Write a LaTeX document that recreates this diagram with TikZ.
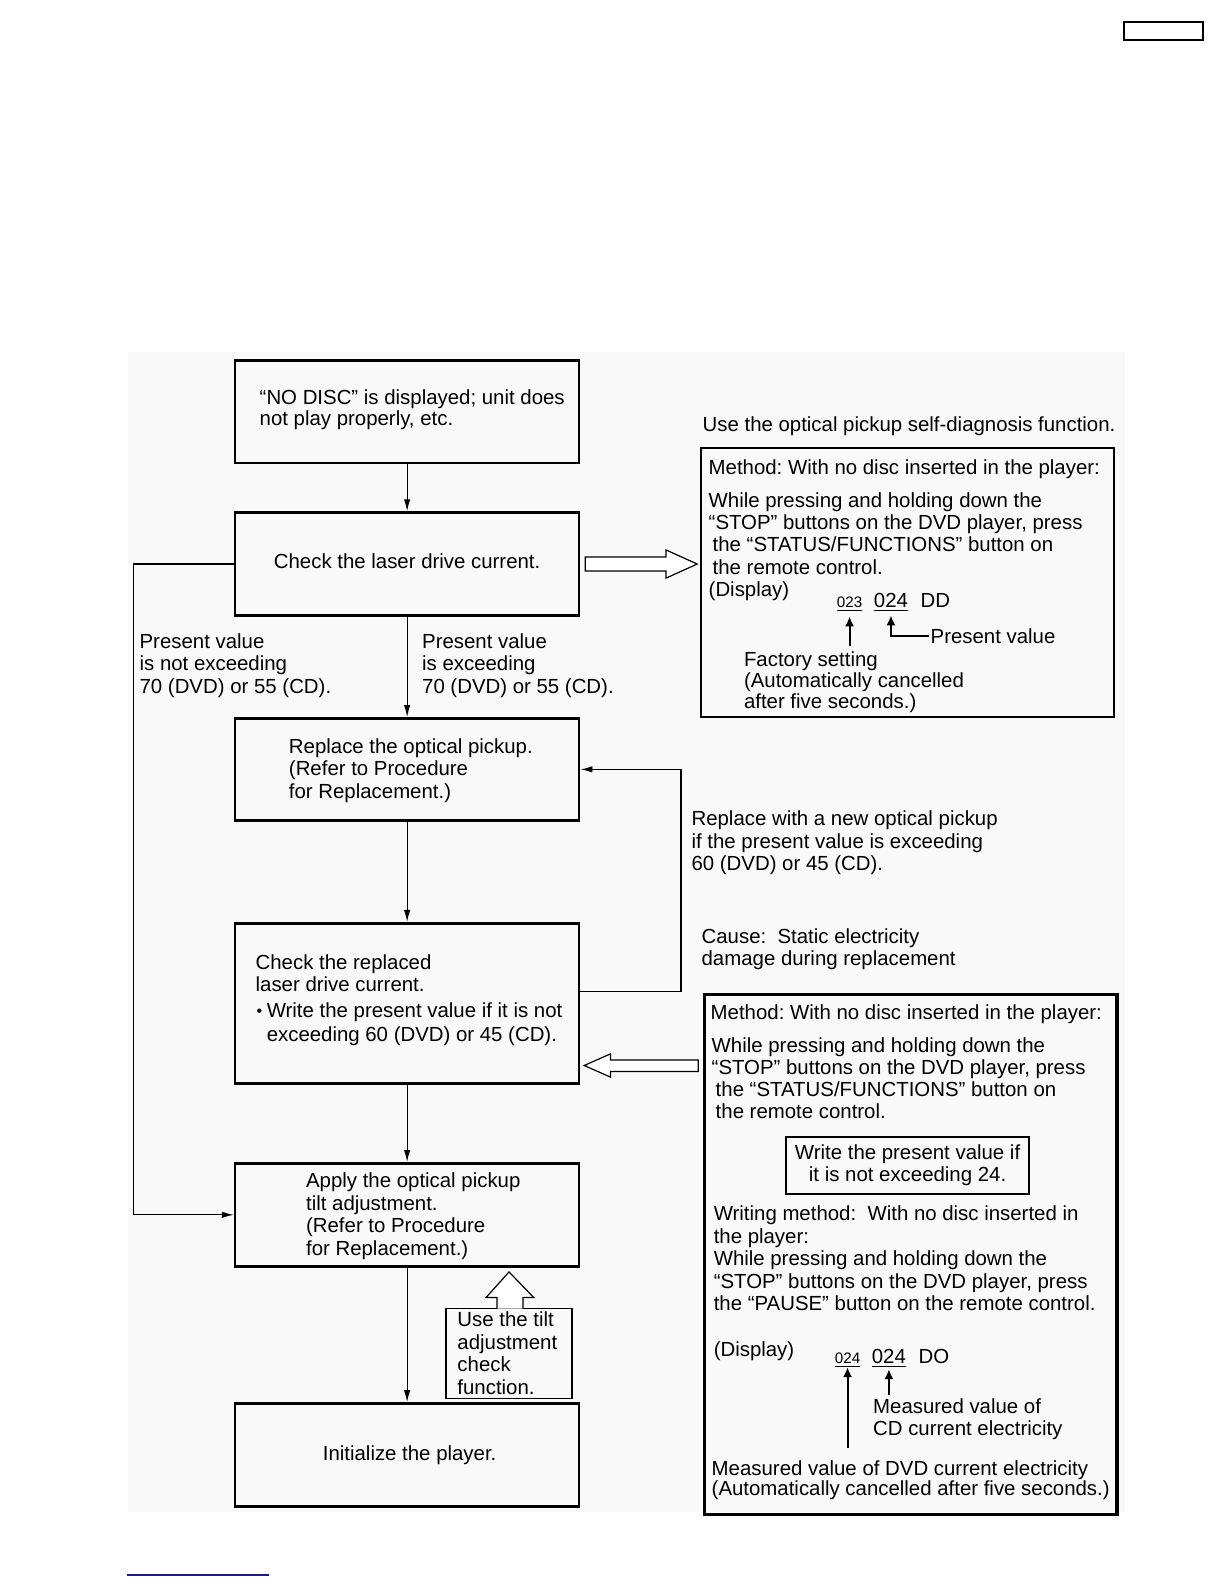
\documentclass[tikz,border=0pt]{standalone}
\usepackage{fontspec}
\setmainfont{Liberation Sans}
\usetikzlibrary{arrows.meta,fit}
\definecolor{bggray}{HTML}{F9F9F9}
\definecolor{navyline}{HTML}{1A1A8A}
\newcommand\ltab[1]{\begin{tabular}[t]{@{}l@{}}#1\end{tabular}}
\newcommand\ctab[1]{\begin{tabular}[t]{@{}c@{}}#1\end{tabular}}
\frenchspacing
\begin{document}
\begin{tikzpicture}[x=0.5045pt,y=-0.5045pt,
  box/.style={draw, line width=1.3pt, inner sep=0pt},
  thinbox/.style={draw, line width=0.6pt, inner sep=0pt},
  txt/.style={anchor=base west, inner sep=0pt, font=\fontsize{10.2}{11.1}\selectfont},
  ctxt/.style={anchor=base, inner sep=0pt, font=\fontsize{10.2}{11.1}\selectfont},
  arr/.style={line width=0.6pt, -{Latex[length=6pt,width=3.2pt]}},
  darr/.style={line width=1pt, -{Latex[length=5pt,width=4.6pt]}},
  conn/.style={line width=0.6pt},
  hollow/.style={draw, line width=0.6pt, fill=white, line join=miter}
]
\useasboundingbox (0,0) rectangle (1213.1,1569.9);
\fill[bggray] (127,349) rectangle (1115,1499);

% top-right small rectangle and bottom line
\node[draw, line width=0.9pt, inner sep=0pt, fit={(1114,22) (1192,40)}] (tag) {};
\draw[navyline, line width=1pt] (126,1561) -- (267,1561);

% main flow boxes
\node[box, fit={(233,357) (574,459)}] (b1) {};
\node[box, fit={(233,508) (574,610)}] (b2) {};
\node[box, fit={(233,712) (574,813)}] (b3) {};
\node[box, fit={(233,915) (574,1074)}] (b4) {};
\node[box, fit={(233,1153) (574,1255)}] (b5) {};
\node[box, fit={(233,1391) (574,1493)}] (b6) {};

\node[txt, font=\fontsize{10.2}{10.6}\selectfont] (t1) at (257,401) {\ltab{“NO DISC” is displayed; unit does\\not play properly, etc.}};
\node[ctxt] (t2) at (403.5,563) {Check the laser drive current.};
\node[txt] (t3) at (286,747) {\ltab{Replace the optical pickup.\\(Refer to Procedure\\for Replacement.)}};
\node[txt] (t4) at (253,961) {\ltab{Check the replaced\\laser drive current.}};
\node[txt, font=\fontsize{8}{10}\selectfont] (t4b) at (254,1007) {\textbullet};
\node[txt, font=\fontsize{10.2}{12.1}\selectfont] (t4c) at (264,1008) {\ltab{Write the present value if it is not\\exceeding 60 (DVD) or 45 (CD).}};
\node[txt, font=\fontsize{10.2}{11.25}\selectfont] (t5) at (303,1177) {\ltab{Apply the optical pickup\\tilt adjustment.\\(Refer to Procedure\\for Replacement.)}};
\node[ctxt] (t6) at (406,1447) {Initialize the player.};

% vertical connectors
\draw[arr] (b1) -- (b2);
\draw[arr] (b2) -- (b3);
\draw[arr] (b3) -- (b4);
\draw[arr] (b4) -- (b5);
\draw[arr] (b5) -- (b6);

% branch labels
\node[txt] (l1) at (138,643) {\ltab{Present value\\is not exceeding\\70 (DVD) or 55 (CD).}};
\node[txt] (l2) at (418,643) {\ltab{Present value\\is exceeding\\70 (DVD) or 55 (CD).}};

% left loop
\coordinate (lc) at (132,559);
\draw[conn] (b2.west) -- (lc);
\draw[arr] (lc) |- (b5.west);

% right loop
\coordinate (rc) at (675,983);
\draw[conn] (b4.east |- rc) -- (rc);
\draw[arr] (rc) |- (b3.east);

\node[txt, font=\fontsize{10.2}{11.35}\selectfont] (rl1) at (685,818) {\ltab{Replace with a new optical pickup\\if the present value is exceeding\\60 (DVD) or 45 (CD).}};
\node[txt] (rl2) at (695,935) {\ltab{Cause:\ \ Static electricity\\damage during replacement}};

% upper right panel
\node[txt] (use) at (696,428) {Use the optical pickup self-diagnosis function.};
\node[box, line width=1.1pt, fit={(695,444) (1104,711)}] (r1) {};
\node[txt] (r1a) at (702,470) {Method: With no disc inserted in the player:};
\node[txt] (r1b) at (702,503) {\ltab{While pressing and holding down the\\“STOP” buttons on the DVD player, press\\\hspace*{2pt}the “STATUS/FUNCTIONS” button on\\\hspace*{2pt}the remote control.\\(Display)}};
\node[anchor=base, inner sep=0pt, font=\fontsize{7.6}{8}\selectfont] (d1) at (842,602) {\underline{023}};
\node[anchor=base, inner sep=0pt, font=\fontsize{10.2}{11}\selectfont] (d2) at (883,602) {\underline{024}};
\node[anchor=base west, inner sep=0pt, font=\fontsize{10.2}{11}\selectfont] (d3) at (912,602) {DD};
\node[txt] (pv) at (922,638) {Present value};
\node[txt, font=\fontsize{10.2}{10.3}\selectfont] (fs) at (737,661) {\ltab{Factory setting\\(Automatically cancelled\\after five seconds.)}};
\coordinate (fa) at (842,640);
\coordinate (fb) at (842,611);
\draw[darr] (fa) -- (fb);
\coordinate (pa) at (921,630);
\coordinate (pb) at (883,610);
\draw[darr] (pa) -| (pb);

% hollow arrow b2 -> r1
\draw[hollow] (580,552) -- (660,552) -- (660,545) -- (691,559) -- (660,573) -- (660,566) -- (580,566) -- cycle;

% lower right panel
\node[box, line width=1.6pt, fit={(698,986) (1107,1501)}] (r2) {};
\node[txt] (r2a) at (704,1010) {Method: With no disc inserted in the player:};
\node[txt] (r2b) at (705,1043) {\ltab{While pressing and holding down the\\“STOP” buttons on the DVD player, press\\\hspace*{2pt}the “STATUS/FUNCTIONS” button on\\\hspace*{2pt}the remote control.}};
\node[draw, line width=1pt, inner sep=0pt, fit={(779,1127) (1020,1183)}] (ib) {};
\node[ctxt] (ibt) at (899.5,1149) {\ctab{Write the present value if\\it is not exceeding 24.}};
\node[txt, font=\fontsize{10.2}{11.2}\selectfont] (wm) at (707,1210) {\ltab{Writing method:\ \ With no disc inserted in\\the player:\\While pressing and holding down the\\“STOP” buttons on the DVD player, press\\the “PAUSE” button on the remote control.}};
\node[txt] (disp2) at (707,1344) {(Display)};
\node[anchor=base, inner sep=0pt, font=\fontsize{7.6}{8}\selectfont] (e1) at (840,1351) {\underline{024}};
\node[anchor=base, inner sep=0pt, font=\fontsize{10.2}{11}\selectfont] (e2) at (881,1351) {\underline{024}};
\node[anchor=base west, inner sep=0pt, font=\fontsize{10.2}{11}\selectfont] (e3) at (910,1351) {DO};
\node[txt] (cd) at (865,1401) {\ltab{Measured value of\\CD current electricity}};
\node[txt, font=\fontsize{10.2}{10.1}\selectfont] (dvd) at (705,1462) {\ltab{Measured value of DVD current electricity\\(Automatically cancelled after five seconds.)}};
\coordinate (ea) at (840,1435);
\coordinate (eb) at (840,1355);
\draw[darr] (ea) -- (eb);
\coordinate (ec) at (881,1383);
\coordinate (ed) at (881,1357);
\draw[darr] (ec) -- (ed);

% hollow arrow r2 -> b4
\draw[hollow] (692,1050.5) -- (605,1050.5) -- (605,1044.5) -- (579,1056) -- (605,1067.5) -- (605,1062) -- (692,1062) -- cycle;

% tilt box and hollow up arrow
\node[thinbox, fit={(442,1297) (567,1386)}] (tb) {};
\node[txt, font=\fontsize{10.2}{11.25}\selectfont] (tbt) at (453,1315) {\ltab{Use the tilt\\adjustment\\check\\function.}};
\draw[hollow] (492.6,1297) -- (492.6,1286) -- (481.7,1286) -- (504.5,1260.6) -- (529,1286) -- (518.3,1286) -- (518.3,1297);
\end{tikzpicture}
\end{document}
